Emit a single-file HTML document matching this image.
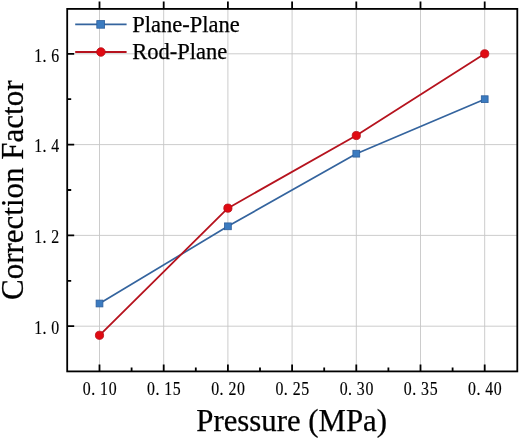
<!DOCTYPE html><html><head><meta charset="utf-8"><style>
html,body{margin:0;padding:0;background:#fff;}
body{width:520px;height:439px;overflow:hidden;}
svg{display:block;}
text{font-family:"Liberation Serif","Times New Roman",serif;fill:#000;stroke:#000;stroke-width:0.25;}.tl text{stroke:#000;stroke-width:0.15;font-size:18px;}
</style></head><body>
<svg width="520" height="439" viewBox="0 0 520 439">
<rect width="520" height="439" fill="#fff"/>
<path d="M99.50 8.90V371.40M163.70 8.90V371.40M227.90 8.90V371.40M292.10 8.90V371.40M356.30 8.90V371.40M420.50 8.90V371.40M484.70 8.90V371.40M67.20 326.20H517.30M67.20 235.40H517.30M67.20 144.60H517.30M67.20 53.80H517.30" stroke="#c6c6c6" stroke-width="0.9" fill="none"/>
<path d="M99.50 371.40v-7M163.70 371.40v-7M227.90 371.40v-7M292.10 371.40v-7M356.30 371.40v-7M420.50 371.40v-7M484.70 371.40v-7M131.60 371.40v-4M195.80 371.40v-4M260.00 371.40v-4M324.20 371.40v-4M388.40 371.40v-4M452.60 371.40v-4M99.50 8.90v-7.5M163.70 8.90v-7.5M227.90 8.90v-7.5M292.10 8.90v-7.5M356.30 8.90v-7.5M420.50 8.90v-7.5M484.70 8.90v-7.5M67.20 326.20h7M67.20 235.40h7M67.20 144.60h7M67.20 53.80h7M67.20 280.80h4M67.20 190.00h4M67.20 99.20h4" stroke="#000" stroke-width="1.8" fill="none"/>
<rect x="67.2" y="8.9" width="450.10" height="362.50" fill="none" stroke="#000" stroke-width="1.8"/>
<polyline points="99.50,303.50 227.90,226.32 356.30,153.68 484.70,99.20" fill="none" stroke="#34649e" stroke-width="1.7" stroke-linejoin="round"/>
<polyline points="99.50,335.28 227.90,208.16 356.30,135.52 484.70,53.80" fill="none" stroke="#b6131e" stroke-width="1.8" stroke-linejoin="round"/>
<rect x="96.10" y="300.10" width="6.8" height="6.8" fill="#3b7bc0" stroke="#2c5e9c" stroke-width="0.8"/>
<rect x="224.50" y="222.92" width="6.8" height="6.8" fill="#3b7bc0" stroke="#2c5e9c" stroke-width="0.8"/>
<rect x="352.90" y="150.28" width="6.8" height="6.8" fill="#3b7bc0" stroke="#2c5e9c" stroke-width="0.8"/>
<rect x="481.30" y="95.80" width="6.8" height="6.8" fill="#3b7bc0" stroke="#2c5e9c" stroke-width="0.8"/>
<circle cx="99.50" cy="335.28" r="4.1" fill="#e00a12" stroke="#b80c16" stroke-width="0.8"/>
<circle cx="227.90" cy="208.16" r="4.1" fill="#e00a12" stroke="#b80c16" stroke-width="0.8"/>
<circle cx="356.30" cy="135.52" r="4.1" fill="#e00a12" stroke="#b80c16" stroke-width="0.8"/>
<circle cx="484.70" cy="53.80" r="4.1" fill="#e00a12" stroke="#b80c16" stroke-width="0.8"/>
<path d="M75.2 24.4H126.6" stroke="#34649e" stroke-width="1.7"/>
<rect x="96.80" y="20.60" width="7.8" height="7.6" fill="#3b7bc0" stroke="#2c5e9c" stroke-width="0.8"/>
<path d="M75.2 52.0H126.6" stroke="#b6131e" stroke-width="1.8"/>
<circle cx="100.9" cy="52.0" r="4.3" fill="#e00a12" stroke="#b80c16" stroke-width="0.8"/>
<text x="132.3" y="31.5" font-size="22.5">Plane-Plane</text>
<text x="132.3" y="58.7" font-size="22.5">Rod-Plane</text>
<g class="tl">
<text transform="scale(0.88 1)" x="43.30 50.57 62.84" y="334.10" text-anchor="middle">1.0</text>
<text transform="scale(0.88 1)" x="43.30 50.57 62.84" y="243.30" text-anchor="middle">1.2</text>
<text transform="scale(0.88 1)" x="43.30 50.57 62.84" y="152.50" text-anchor="middle">1.4</text>
<text transform="scale(0.88 1)" x="43.30 50.57 62.84" y="61.70" text-anchor="middle">1.6</text>
<text transform="scale(0.88 1)" x="98.64 105.91 118.18 127.95" y="395.0" text-anchor="middle">0.10</text>
<text transform="scale(0.88 1)" x="171.59 178.86 191.14 200.91" y="395.0" text-anchor="middle">0.15</text>
<text transform="scale(0.88 1)" x="244.55 251.82 264.09 273.86" y="395.0" text-anchor="middle">0.20</text>
<text transform="scale(0.88 1)" x="317.50 324.77 337.05 346.82" y="395.0" text-anchor="middle">0.25</text>
<text transform="scale(0.88 1)" x="390.45 397.73 410.00 419.77" y="395.0" text-anchor="middle">0.30</text>
<text transform="scale(0.88 1)" x="463.41 470.68 482.95 492.73" y="395.0" text-anchor="middle">0.35</text>
<text transform="scale(0.88 1)" x="536.36 543.64 555.91 565.68" y="395.0" text-anchor="middle">0.40</text>
</g>
<text x="291.7" y="430.6" font-size="30.8" text-anchor="middle">Pressure (MPa)</text>
<text transform="translate(23.0 190.3) rotate(-90)" x="0" y="0" font-size="31" text-anchor="middle">Correction Factor</text>
</svg></body></html>
